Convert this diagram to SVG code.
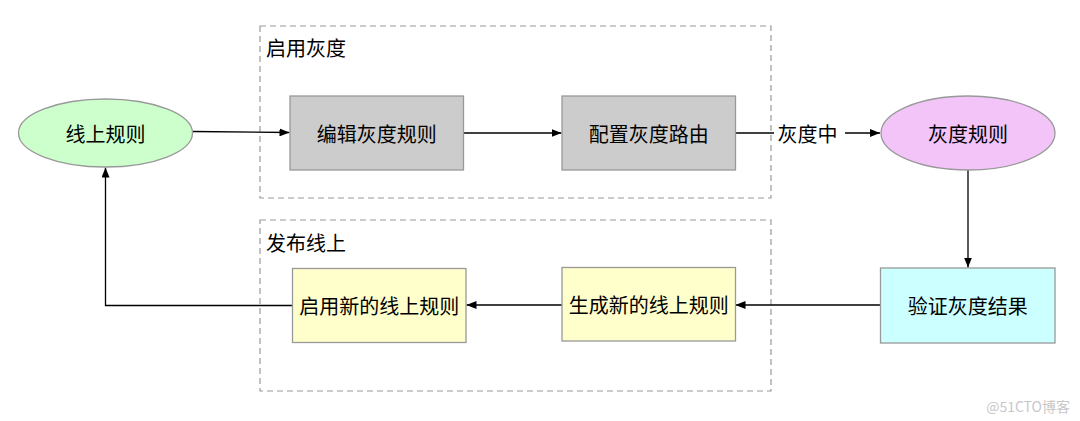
<svg xmlns="http://www.w3.org/2000/svg" width="1080" height="421" viewBox="0 0 1080 421">
<defs>
<style>
text{font-family:"Noto Sans CJK SC","Noto Sans",sans-serif;font-size:20px;fill:#000;}
.c{text-anchor:middle;dominant-baseline:central;}
.grp{fill:none;stroke:#999;stroke-width:1.2;stroke-dasharray:6 4;}
.box{stroke:#999;stroke-width:1.3;}
.edge{fill:none;stroke:#000;stroke-width:1.3;}
</style>
<marker id="arr" viewBox="0 0 10 8" refX="10" refY="4" markerWidth="10" markerHeight="8" markerUnits="userSpaceOnUse" orient="auto">
<path d="M0,0 L10,4 L0,8 Z" fill="#000"/>
</marker>
</defs>
<rect width="1080" height="421" fill="#fff"/>
<g id="group-enable">
<rect class="grp" x="260" y="26" width="511" height="172"/>
<text x="266" y="47" dominant-baseline="central">启用灰度</text>
</g>
<g id="group-publish">
<rect class="grp" x="260" y="220" width="511" height="171"/>
<text x="266" y="242" dominant-baseline="central">发布线上</text>
</g>
<g id="connectors">
<path class="edge" d="M193,131.5 L289.5,132.5" marker-end="url(#arr)"/>
<path class="edge" d="M463.5,133 L561.5,133" marker-end="url(#arr)"/>
<path class="edge" d="M735.5,133 L774,133"/>
<text class="c" x="807.5" y="133">灰度中</text>
<path class="edge" d="M845,133 L880,133" marker-end="url(#arr)"/>
<path class="edge" d="M968,170 L968,267.5" marker-end="url(#arr)"/>
<path class="edge" d="M880,305 L735.5,305" marker-end="url(#arr)"/>
<path class="edge" d="M562,305 L466.5,305" marker-end="url(#arr)"/>
<path class="edge" d="M292,305.5 L105.5,305.5 L105.5,167.5" marker-end="url(#arr)"/>
</g>
<g id="node-online-rule">
<ellipse class="box" cx="105.5" cy="133" rx="87" ry="34" fill="#ccffcc"/>
<text class="c" x="105.5" y="133">线上规则</text>
</g>
<g id="node-edit">
<rect class="box" x="290" y="96" width="173.5" height="74" fill="#cccccc"/>
<text class="c" x="376.75" y="133">编辑灰度规则</text>
</g>
<g id="node-route">
<rect class="box" x="562" y="96" width="173.5" height="74" fill="#cccccc"/>
<text class="c" x="648.75" y="133">配置灰度路由</text>
</g>
<g id="node-gray-rule">
<ellipse class="box" cx="968" cy="133" rx="87" ry="37" fill="#f2c4f8"/>
<text class="c" x="968" y="133">灰度规则</text>
</g>
<g id="node-verify">
<rect class="box" x="880.5" y="268" width="174.5" height="75" fill="#ccffff"/>
<text class="c" x="967.75" y="305.5">验证灰度结果</text>
</g>
<g id="node-generate">
<rect class="box" x="562" y="267.5" width="173.5" height="73.5" fill="#ffffcc"/>
<text class="c" x="648.75" y="304.5">生成新的线上规则</text>
</g>
<g id="node-apply">
<rect class="box" x="292.5" y="268.5" width="173.5" height="74" fill="#ffffcc"/>
<text class="c" x="379.25" y="305.5">启用新的线上规则</text>
</g>
<text x="1070" y="406" text-anchor="end" dominant-baseline="central" style="font-size:14px;fill:#c8c8c8;">@51CTO博客</text>
</svg>
